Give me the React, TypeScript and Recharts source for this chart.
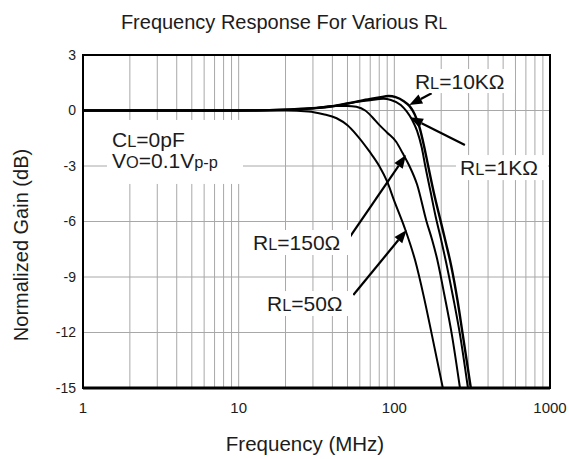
import React from "react";
import {
  CartesianGrid,
  Line,
  LineChart,
  ReferenceArea,
  ReferenceDot,
  ReferenceLine,
  XAxis,
  YAxis,
} from "recharts";

const W = 569;
const H = 459;
const FONT = '"Liberation Sans", Arial, Helvetica, sans-serif';
const INK = "#1c1c1c";
const GRID = "#a8a8a8";

// axes
const X_TICKS = [
  1, 2, 3, 4, 5, 6, 7, 8, 9, 10, 20, 30, 40, 50, 60, 70, 80, 90, 100, 200, 300, 400, 500, 600,
  700, 800, 900, 1000,
];
const X_LABELS = [1, 10, 100, 1000];
const Y_TICKS = [-15, -12, -9, -6, -3, 0, 3];

// series (MHz, dB)
const FREQ_50 = [1, 10, 20, 28, 35, 42.6, 50, 57, 69, 80, 90, 100, 116, 136, 155, 174, 205];
const GAIN_50 = [0, 0, 0, -0.05, -0.2, -0.42, -0.8, -1.3, -2.2, -3.0, -3.85, -4.9, -6.3, -8.1, -10.1, -12.1, -15];

const FREQ_150 = [1, 10, 20, 30, 42, 50, 57, 65, 72, 80, 90, 103, 113, 125, 140, 161, 175, 188, 210, 234, 264];
const GAIN_150 = [0, 0, 0.03, 0.12, 0.25, 0.25, 0.2, 0.0, -0.35, -0.78, -1.2, -1.7, -2.3, -3.0, -4.0, -6.0, -7.0, -8.0, -10.0, -12.1, -15];

const FREQ_1K = [1, 10, 20, 30, 42, 57, 70, 85, 95, 110, 120, 130, 140, 150, 158, 170, 185, 200, 215, 240, 264, 297];
const GAIN_1K = [0, 0, 0.05, 0.12, 0.26, 0.46, 0.56, 0.63, 0.57, 0.3, -0.05, -0.5, -1.1, -2.0, -3.0, -4.3, -5.8, -7.0, -8.2, -10.2, -12.1, -15];

const FREQ_10K = [1, 10, 20, 30, 42, 57, 70, 80, 92, 102, 115, 125, 135, 145, 155, 165, 180, 200, 215, 232, 255, 275, 310];
const GAIN_10K = [0, 0, 0.05, 0.12, 0.26, 0.48, 0.62, 0.7, 0.78, 0.72, 0.5, 0.25, -0.2, -0.9, -1.9, -3.0, -4.5, -6.1, -7.2, -8.4, -10.3, -12.1, -15];

const zip = (f: number[], g: number[]) => f.map((x, i) => ({ f: x, g: g[i] }));

const SERIES = [
  { name: "50", data: zip(FREQ_50, GAIN_50), width: 2 },
  { name: "150", data: zip(FREQ_150, GAIN_150), width: 2 },
  { name: "1K", data: zip(FREQ_1K, GAIN_1K), width: 2 },
  { name: "10K", data: zip(FREQ_10K, GAIN_10K), width: 2.4 },
];

// annotation arrows: tail -> tip, data coords
const ARROWS = [
  { from: [173.6, 0.93], to: [124.7, 0.3] },
  { from: [284, -1.86], to: [126, -0.37] },
  { from: [49.4, -7.09], to: [118.7, -2.41] },
  { from: [54.5, -9.97], to: [120, -6.46] },
];

type Part = [string, boolean?];
const LABELS: { at: [number, number]; lines: Part[][]; box: [number, number, number, number] }[] = [
  { at: [135.6, 1.16], lines: [[["R"], ["L", true], ["=10KΩ"]]], box: [4, 20, 100, 4] },
  { at: [264, -3.49], lines: [[["R"], ["L", true], ["=1KΩ"]]], box: [4, 20, 88, 5] },
  { at: [12.36, -7.54], lines: [[["R"], ["L", true], ["=150Ω"]]], box: [4, 20, 98, 5] },
  { at: [15.2, -10.84], lines: [[["R"], ["L", true], ["=50Ω"]]], box: [4, 20, 86, 5] },
  {
    at: [1.536, -1.97],
    lines: [
      [["C"], ["L", true], ["=0pF"]],
      [["V"], ["O", true], ["=0.1V"], ["p-p", true]],
    ],
    box: [5, 27, 131, 37],
  },
];

const LABEL_SIZE = 21;
const LINE_GAP = 21;

function ArrowShape(props: any) {
  const { x1, y1, x2, y2 } = props;
  const dx = x2 - x1;
  const dy = y2 - y1;
  const len = Math.hypot(dx, dy) || 1;
  const ux = dx / len;
  const uy = dy / len;
  const hl = 13;
  const hw = 5;
  const bx = x2 - ux * hl;
  const by = y2 - uy * hl;
  const pts = `${x2},${y2} ${bx - uy * hw},${by + ux * hw} ${bx + uy * hw},${by - ux * hw}`;
  return (
    <g>
      <line x1={x1} y1={y1} x2={bx} y2={by} stroke="#000" strokeWidth={2.2} />
      <polygon points={pts} fill="#000" />
    </g>
  );
}

function makeLabel(lines: Part[][], box: [number, number, number, number]) {
  return (p: any) => {
    const { cx, cy } = p;
    const [l, t, r, b] = box;
    return (
      <g>
        <rect x={cx - l} y={cy - t} width={l + r} height={t + b} fill="#fff" />
        {lines.map((parts, li) => (
          <text
            key={li}
            x={cx}
            y={cy + li * LINE_GAP}
            fontFamily={FONT}
            fontSize={LABEL_SIZE}
            fill={INK}
          >
            {parts.map(([s, small], i) => (
              <tspan key={i} fontSize={small ? LABEL_SIZE * 0.78 : LABEL_SIZE}>
                {s}
              </tspan>
            ))}
          </text>
        ))}
      </g>
    );
  };
}

export default function App() {
  return (
    <div style={{ position: "absolute", left: 0, top: 0, width: W, height: H, background: "#fff" }}>
      <LineChart
        width={W}
        height={H}
        margin={{ top: 55, right: 19, bottom: 41, left: 43 }}
        style={{ fontFamily: FONT }}
      >
        <CartesianGrid stroke={GRID} strokeWidth={1} />
        <XAxis
          dataKey="f"
          type="number"
          scale="log"
          domain={[1, 1000]}
          allowDataOverflow
          ticks={X_TICKS}
          interval={0}
          tickFormatter={(v: number) => (X_LABELS.includes(v) ? String(v) : "")}
          tick={{ fontSize: 15, fill: INK }}
          tickLine={false}
          tickSize={0}
          tickMargin={14}
          axisLine={{ stroke: "#000", strokeWidth: 3 }}
          height={30}
        />
        <YAxis
          type="number"
          domain={[-15, 3]}
          ticks={Y_TICKS}
          interval={0}
          allowDataOverflow
          tick={{ fontSize: 14, fill: INK }}
          tickLine={false}
          tickSize={0}
          tickMargin={7}
          axisLine={{ stroke: "#000", strokeWidth: 2 }}
          width={40}
        />
        {LABELS.map((lb, i) => (
          <ReferenceDot
            key={"lb" + i}
            x={lb.at[0]}
            y={lb.at[1]}
            r={0}
            ifOverflow="visible"
            shape={makeLabel(lb.lines, lb.box)}
          />
        ))}
        <ReferenceArea
          x1={1}
          x2={1000}
          y1={-15}
          y2={3}
          fill="none"
          fillOpacity={0}
          stroke="#000"
          strokeWidth={2}
          ifOverflow="visible"
        />
        {SERIES.map((s) => (
          <Line
            key={s.name}
            data={s.data}
            dataKey="g"
            type="monotone"
            stroke="#000"
            strokeWidth={s.width}
            dot={false}
            activeDot={false}
            isAnimationActive={false}
          />
        ))}
        {ARROWS.map((a, i) => (
          <ReferenceLine
            key={"ar" + i}
            segment={[
              { x: a.from[0], y: a.from[1] },
              { x: a.to[0], y: a.to[1] },
            ]}
            ifOverflow="visible"
            shape={ArrowShape}
          />
        ))}
      </LineChart>
      <svg
        width={W}
        height={H}
        style={{ position: "absolute", left: 0, top: 0, pointerEvents: "none" }}
        fontFamily={FONT}
        fill={INK}
      >
        <text x={284} y={29} textAnchor="middle" fontSize={20}>
          Frequency Response For Various R<tspan fontSize={15.6}>L</tspan>
        </text>
        <text x={305} y={451} textAnchor="middle" fontSize={20.5}>
          Frequency (MHz)
        </text>
        <text transform="translate(28,245) rotate(-90)" textAnchor="middle" fontSize={20}>
          Normalized Gain (dB)
        </text>
      </svg>
    </div>
  );
}
